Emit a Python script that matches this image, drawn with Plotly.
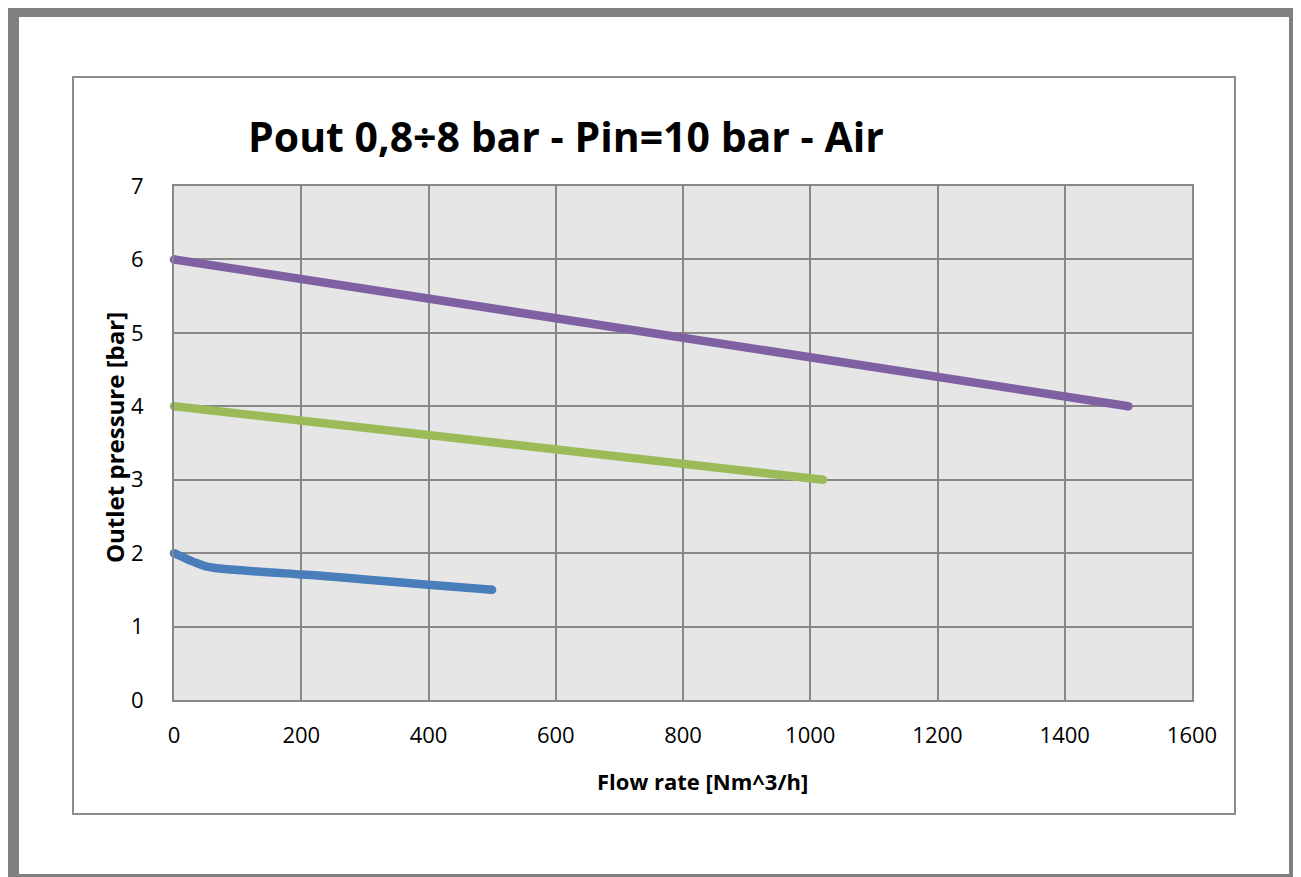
import plotly.graph_objects as go

# Data
blue_x = [0, 50, 100, 200, 250, 300, 400, 500]
blue_y = [2.0, 1.82, 1.77, 1.71, 1.68, 1.64, 1.57, 1.50]
green_x = [0, 1020]
green_y = [4.0, 3.0]
purple_x = [0, 1500]
purple_y = [6.0, 4.0]

x_ticks = [0, 200, 400, 600, 800, 1000, 1200, 1400, 1600]
y_ticks = [0, 1, 2, 3, 4, 5, 6, 7]

title_text = "Pout 0,8÷8 bar - Pin=10 bar - Air"
x_title = "Flow rate [Nm^3/h]"
y_title = "Outlet pressure [bar]"

OFF = 8  # page body margin
W, H = 1301 - OFF, 877 - OFF
# plot area in page pixel coordinates
L, R, T, B = 174, 1192, 186, 700


def px(x):
    return (x - L) / (R - L)


def py(y):
    return (B - y) / (B - T)


fig = go.Figure()
series = [
    (blue_x, blue_y, "#4A7EBB", "spline"),
    (green_x, green_y, "#9BBB59", "linear"),
    (purple_x, purple_y, "#7F60A2", "linear"),
]
for xs, ys, col, shp in series:
    fig.add_trace(go.Scatter(
        x=xs, y=ys, mode="lines",
        line=dict(color=col, width=8.5, shape=shp, smoothing=0.8),
        showlegend=False, hoverinfo="skip",
    ))
    fig.add_trace(go.Scatter(
        x=[xs[0], xs[-1]], y=[ys[0], ys[-1]], mode="markers",
        marker=dict(color=col, size=8.5, line=dict(width=0)),
        showlegend=False, hoverinfo="skip", cliponaxis=False,
    ))

grey = "#808080"
shapes = [
    # outer page frame
    dict(type="rect", xref="paper", yref="paper", x0=px(0), x1=px(19), y0=py(880), y1=py(4),
         fillcolor=grey, line=dict(width=0), layer="below"),
    dict(type="rect", xref="paper", yref="paper", x0=px(0), x1=px(1305), y0=py(17), y1=py(4),
         fillcolor=grey, line=dict(width=0), layer="below"),
    dict(type="rect", xref="paper", yref="paper", x0=px(1289), x1=px(1305), y0=py(880), y1=py(4),
         fillcolor=grey, line=dict(width=0), layer="below"),
    dict(type="rect", xref="paper", yref="paper", x0=px(0), x1=px(1305), y0=py(880), y1=py(874),
         fillcolor=grey, line=dict(width=0), layer="below"),
    # chart box
    dict(type="rect", xref="paper", yref="paper", x0=px(73), x1=px(1235), y0=py(814), y1=py(77),
         fillcolor="rgba(0,0,0,0)", line=dict(color="#8C8C8C", width=2), layer="below"),
]

font_main = "Open Sans"
fig.update_layout(
    width=W, height=H,
    margin=dict(l=L - OFF, r=1301 - R, t=T - OFF, b=877 - B, pad=0),
    paper_bgcolor="white",
    plot_bgcolor="#E6E6E6",
    shapes=shapes,
    showlegend=False,
    annotations=[
        dict(text="<b>" + title_text + "</b>", xref="paper", yref="paper",
             x=px(566), y=py(136), xanchor="center", yanchor="middle", showarrow=False,
             font=dict(family=font_main, size=41, color="black")),
        dict(text="<b>" + x_title + "</b>", xref="paper", yref="paper",
             x=px(702), y=py(781), xanchor="center", yanchor="middle", showarrow=False,
             font=dict(family=font_main, size=22, color="black")),
        dict(text="<b>" + y_title + "</b>", xref="paper", yref="paper",
             x=px(114), y=py(438), xanchor="center", yanchor="middle", showarrow=False,
             textangle=-90, font=dict(family=font_main, size=24, color="black")),
    ],
    xaxis=dict(
        range=[0, 1600], tickvals=x_ticks, ticktext=[str(v) for v in x_ticks],
        showgrid=True, gridcolor="#888888", gridwidth=2,
        showline=True, linecolor="#888888", linewidth=2, mirror=True,
        zeroline=False, ticks="", ticklabelstandoff=15,
        tickfont=dict(family=font_main, size=22, color="black"),
    ),
    yaxis=dict(
        range=[0, 7], tickvals=y_ticks, ticktext=[str(v) for v in y_ticks],
        showgrid=True, gridcolor="#888888", gridwidth=2,
        showline=True, linecolor="#888888", linewidth=2, mirror=True,
        zeroline=False, ticks="", ticklabelstandoff=24,
        tickfont=dict(family=font_main, size=22, color="black"),
    ),
)

fig.write_html("out.html")
